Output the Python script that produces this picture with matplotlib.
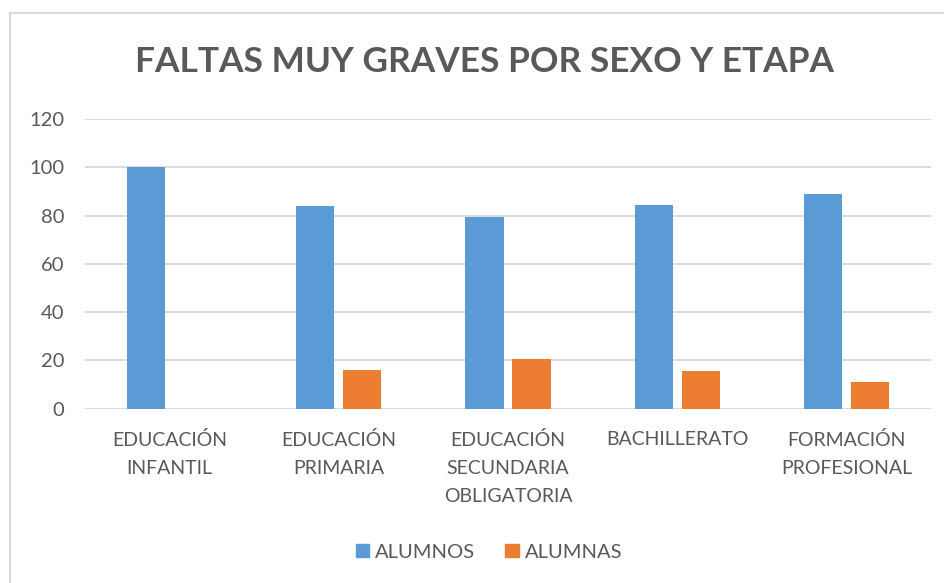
import matplotlib.pyplot as plt
import numpy as np
from matplotlib.lines import Line2D
from matplotlib.patches import Patch

# Datos
etapas = ["EDUCACIÓN\nINFANTIL", "EDUCACIÓN\nPRIMARIA", "EDUCACIÓN\nSECUNDARIA\nOBLIGATORIA",
          "BACHILLERATO", "FORMACIÓN\nPROFESIONAL"]
alumnos = [100, 84, 79.5, 84.5, 89]
alumnas = [0, 16, 20.5, 15.5, 11]
series = ["ALUMNOS", "ALUMNAS"]

azul = "#5B9BD5"
naranja = "#ED7D31"
gris = "#595959"

plt.rcParams["font.family"] = ["Lato", "DejaVu Sans"]

W, H = 945, 583
fig = plt.figure(figsize=(W / 100, H / 100), dpi=100)
ax = fig.add_axes([85 / W, 1 - 408.7 / H, (931 - 85) / W, (408.7 - 119) / H])

x = np.arange(len(etapas))
ancho = 0.225
ax.bar(x - 0.139, alumnos, ancho, color=azul, zorder=3)
ax.bar(x + 0.139, alumnas, ancho, color=naranja, zorder=3)

ax.set_xlim(-0.5, len(etapas) - 0.5)
ax.set_ylim(0, 120)
ax.set_yticks(range(0, 121, 20))
ax.yaxis.grid(True, color="#D9D9D9", linewidth=1.3, zorder=0)
for s in ax.spines.values():
    s.set_visible(False)
ax.axhline(0, color="#D9D9D9", linewidth=1.3, zorder=1)

ax.tick_params(axis="y", length=0, pad=15, labelsize=14.5, labelcolor=gris)
ax.set_xticks(x)
ax.set_xticklabels(etapas, fontsize=14, color=gris, linespacing=1.8, va="top")
ax.tick_params(axis="x", length=0, pad=16)

fig.text(485 / W, 1 - 62 / H, "FALTAS MUY GRAVES POR SEXO Y ETAPA", ha="center", va="center",
         fontsize=25.4, fontweight="bold", color=gris)

handles = [Patch(color=azul, label=series[0]), Patch(color=naranja, label=series[1])]
fig.legend(handles=handles, loc="center", bbox_to_anchor=(489 / W, 1 - 552 / H), ncol=2,
           frameon=False, fontsize=14.5, handlelength=0.65, handleheight=0.65, handletextpad=0.3,
           columnspacing=1.5, labelcolor=gris)

# borde del área del gráfico
fig.add_artist(Line2D([10 / W, 10 / W], [0, 1 - 13 / H], color="#D9D9D9", linewidth=1.5))
fig.add_artist(Line2D([10 / W, 1], [1 - 13 / H, 1 - 13 / H], color="#D9D9D9", linewidth=1.5))

fig.savefig("out.png", dpi=100)
